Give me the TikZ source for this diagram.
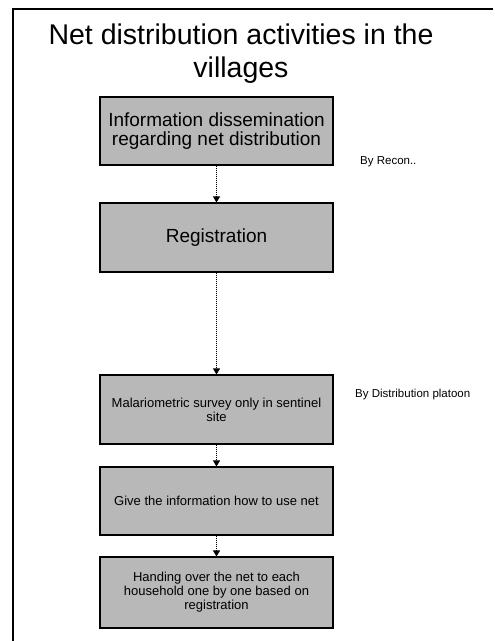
\documentclass[tikz,border=0pt]{standalone}
\usepackage{fontspec}
\setmainfont{Liberation Sans}
\usetikzlibrary{arrows.meta}

\begin{document}
\begin{tikzpicture}[x=1pt, y=-1pt,
  stagebox/.style={draw=black, line width=1.1pt, fill=black!28,
    minimum width=233pt, inner sep=0pt, align=center, text=black},
  bigtext/.style={font=\fontsize{19pt}{18.5pt}\selectfont},
  smalltext/.style={font=\fontsize{13pt}{14pt}\selectfont},
  flow/.style={densely dotted, line width=1pt,
    -{Triangle[width=7pt,length=6pt]}},
  sidenote/.style={anchor=west, inner sep=0pt,
    font=\fontsize{11.5pt}{13pt}\selectfont}]

  % page extent
  \useasboundingbox (0,0) rectangle (495,641);

  % slide frame (left and top edges)
  \draw[line width=1.3pt] (13,641) -- (13,9) -- (493,9);

  % title
  \node[align=center, inner sep=0pt,
        font=\fontsize{28.5pt}{33pt}\selectfont] (title) at (241,54)
    {Net distribution activities in the\\villages};

  % activity boxes
  \node[stagebox, bigtext, minimum height=68pt] (info) at (216.5,131)
    {Information dissemination\\regarding net distribution};
  \node[stagebox, bigtext, minimum height=69pt] (reg) at (216.5,237.5)
    {Registration};
  \node[stagebox, smalltext, minimum height=69pt] (survey) at (216.5,409.5)
    {Malariometric survey only in sentinel\\site};
  \node[stagebox, smalltext, minimum height=68pt] (usage) at (216.5,501)
    {Give the information how to use net};
  \node[stagebox, smalltext, minimum height=71pt] (handover) at (216.5,592.5)
    {Handing over the net to each\\household one by one based on\\registration};

  % connectors
  \draw[flow] (info) -- (reg);
  \draw[flow] (reg) -- (survey);
  \draw[flow] (survey) -- (usage);
  \draw[flow] (usage) -- (handover);

  % responsible teams
  \node[sidenote] (recon) at (360,162) {By Recon..};
  \node[sidenote] (platoon) at (355,395) {By Distribution platoon};
\end{tikzpicture}
\end{document}
